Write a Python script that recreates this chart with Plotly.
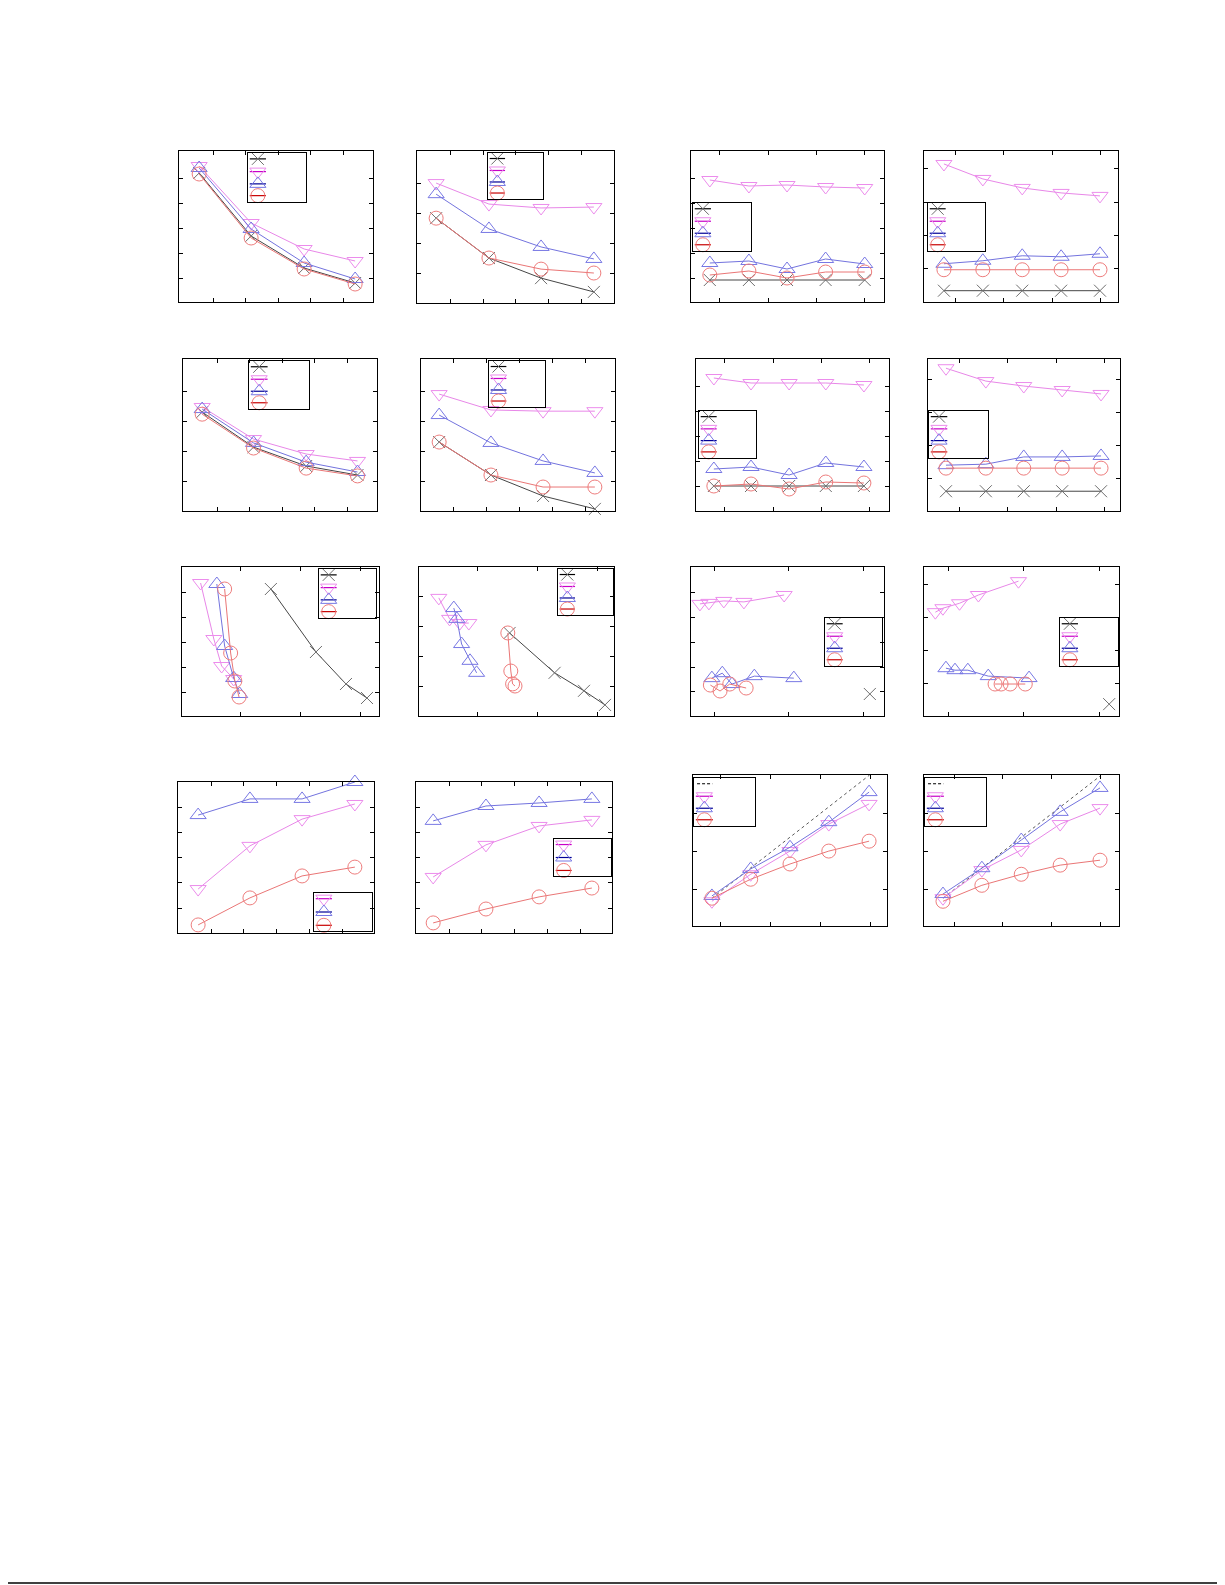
import plotly.graph_objects as go

W, H = 1225, 1585

# ---------------- data (axis units; ticks at integers) ----------------
A_x = [0.57, 2.17, 3.80, 5.37]
A_black = [5.2, 2.68, 1.4, 0.8]
A_magenta = [5.48, 3.2, 2.16, 1.68]
A_blue = [5.4, 2.96, 1.6, 0.96]
A_red = [5.16, 2.6, 1.36, 0.76]

B_x = [0.58, 2.18, 3.76, 5.36]
B_black = [2.83, 1.5, 0.83, 0.37]
B_magenta = [4.0, 3.3, 3.17, 3.2]
B_blue = [3.63, 2.47, 1.87, 1.47]
B_red = [2.83, 1.5, 1.13, 1.0]

C_x = [0.79, 1.6, 2.39, 3.19, 4.0]
C_black = [0.92, 0.92, 0.92, 0.92, 0.92]
C_magenta = [4.92, 4.68, 4.72, 4.64, 4.6]
C_blue = [1.6, 1.68, 1.36, 1.76, 1.56]
C_red = [1.12, 1.28, 1.0, 1.24, 1.24]

D_x = [0.77, 1.57, 2.38, 3.18, 3.98]
D_black = [0.34, 0.34, 0.34, 0.34, 0.34]
D_magenta = [4.15, 3.7, 3.43, 3.28, 3.19]
D_blue = [1.15, 1.24, 1.39, 1.36, 1.45]
D_red = [0.97, 0.97, 0.97, 0.97, 0.97]

E_x = [0.54, 2.12, 3.74, 5.32]
E_black = [3.3, 2.13, 1.5, 1.2]
E_magenta = [3.47, 2.4, 1.9, 1.67]
E_blue = [3.4, 2.27, 1.63, 1.3]
E_red = [3.23, 2.1, 1.43, 1.17]

F_x = [0.55, 2.12, 3.7, 5.27]
F_black = [2.3, 1.2, 0.5, 0.07]
F_magenta = [3.9, 3.37, 3.33, 3.33]
F_blue = [3.2, 2.27, 1.67, 1.27]
F_red = [2.3, 1.2, 0.8, 0.8]

G_x = [0.77, 1.54, 2.33, 3.09, 3.88]
G_black = [1.0, 1.0, 1.0, 1.0, 1.0]
G_magenta = [5.32, 5.12, 5.12, 5.12, 5.04]
G_blue = [1.68, 1.76, 1.44, 1.92, 1.76]
G_red = [1.0, 1.08, 0.88, 1.16, 1.12]

H_x = [0.73, 1.55, 2.33, 3.12, 3.92]
H_black = [0.6, 0.6, 0.6, 0.6, 0.6]
H_magenta = [4.33, 3.94, 3.79, 3.67, 3.55]
H_blue = [1.39, 1.42, 1.64, 1.64, 1.67]
H_red = [1.3, 1.3, 1.3, 1.3, 1.3]

I_black_x = [1.5, 2.25, 2.75, 3.1]
I_black_y = [5.12, 2.6, 1.32, 0.76]
I_magenta_x = [0.33, 0.55, 0.68, 0.88]
I_magenta_y = [5.36, 3.12, 2.04, 1.52]
I_blue_x = [0.6, 0.73, 0.88, 0.98]
I_blue_y = [5.32, 2.84, 1.56, 0.92]
I_red_x = [0.73, 0.83, 0.9, 0.97]
I_red_y = [5.12, 2.56, 1.44, 0.8]

J_black_x = [1.53, 2.28, 2.77, 3.12]
J_black_y = [2.8, 1.47, 0.87, 0.4]
J_magenta_x = [0.35, 0.53, 0.7, 0.85]
J_magenta_y = [3.97, 3.27, 3.13, 3.13]
J_blue_x = [0.6, 0.65, 0.73, 0.87, 0.98]
J_blue_y = [3.63, 3.27, 2.43, 1.87, 1.47]
J_red_x = [1.5, 1.55, 1.58, 1.62]
J_red_y = [2.8, 1.53, 1.1, 1.03]

K_black_x = [3.09]
K_black_y = [0.92]
K_magenta_x = [0.81, 0.93, 1.13, 1.4, 1.94]
K_magenta_y = [4.56, 4.6, 4.68, 4.64, 4.92]
K_blue_x = [0.97, 1.11, 1.24, 1.54, 2.07]
K_blue_y = [1.56, 1.76, 1.32, 1.64, 1.56]
K_red_x = [0.95, 1.08, 1.21, 1.43]
K_red_y = [1.28, 1.04, 1.32, 1.16]

L_black_x = [3.13]
L_black_y = [0.36]
L_magenta_x = [0.83, 0.93, 1.15, 1.4, 1.93]
L_magenta_y = [3.15, 3.27, 3.42, 3.67, 4.09]
L_blue_x = [0.97, 1.09, 1.26, 1.53, 2.07]
L_blue_y = [1.45, 1.39, 1.39, 1.21, 1.15]
L_red_x = [1.62, 1.7, 1.82, 2.02]
L_red_y = [0.97, 0.97, 0.97, 0.97]

M_x = [0.61, 2.18, 3.76, 5.36]
M_magenta = [1.75, 3.46, 4.52, 5.12]
M_blue = [4.68, 5.32, 5.32, 5.99]
M_red = [0.33, 1.4, 2.27, 2.62]

N_x = [0.52, 2.12, 3.73, 5.33]
N_magenta = [2.23, 3.5, 4.25, 4.49]
N_blue = [4.45, 5.04, 5.16, 5.32]
N_red = [0.41, 0.96, 1.44, 1.79]

O_x = [0.82, 1.6, 2.39, 3.17, 3.98]
O_ideal_x = [0.82, 3.99]
O_ideal_y = [0.76, 4.0]
O_magenta = [0.68, 1.39, 2.0, 2.71, 3.24]
O_blue = [0.82, 1.53, 2.1, 2.76, 3.55]
O_red = [0.76, 1.26, 1.66, 2.0, 2.26]

P_x = [0.77, 1.57, 2.38, 3.18, 4.0]
P_ideal_x = [0.77, 4.0]
P_ideal_y = [0.76, 3.97]
P_magenta = [0.76, 1.5, 2.03, 2.71, 3.13]
P_blue = [0.87, 1.55, 2.29, 3.03, 3.66]
P_red = [0.68, 1.1, 1.39, 1.63, 1.76]

# ---------------- styles ----------------
STY = {
    'black':   dict(symbol='x-thin-open', size=12, mc='rgb(110,110,110)', lc='rgb(70,70,70)', leg='black'),
    'magenta': dict(symbol='triangle-down-open', size=14, mc='rgb(236,140,236)', lc='rgb(232,135,232)', leg='rgb(200,0,200)'),
    'blue':    dict(symbol='triangle-up-open', size=14, mc='rgb(120,120,228)', lc='rgb(115,115,222)', leg='rgb(0,0,150)'),
    'red':     dict(symbol='circle-open', size=14, mc='rgb(238,125,125)', lc='rgb(234,118,118)', leg='rgb(200,0,0)'),
}

L4 = ['black', 'magenta', 'blue', 'red']
L3 = ['magenta', 'blue', 'red']
LD = ['dash', 'magenta', 'blue', 'red']

# global page offset (px) applied to every panel box
OFF_X, OFF_Y = -6, -7

# panel layout: box (left, top, right, bottom) in px, axis ranges, ticks, legend
panels = [
    dict(box=(177, 150, 371, 301), xr=(-0.05, 5.92), yr=(0.04, 6.08), xt=5, yt=5,
         s=[('black', A_x, A_black), ('magenta', A_x, A_magenta), ('blue', A_x, A_blue), ('red', A_x, A_red)],
         lg=((246, 152, 304, 201), L4)),
    dict(box=(415, 150, 612, 302), xr=(0.0, 5.97), yr=(0.0, 5.07), xt=5, yt=4,
         s=[('black', B_x, B_black), ('magenta', B_x, B_magenta), ('blue', B_x, B_blue), ('red', B_x, B_red)],
         lg=((486, 152, 541, 198), L4)),
    dict(box=(689, 150, 882, 301), xr=(0.4, 4.4), yr=(0.04, 6.08), xt=4, yt=5,
         s=[('black', C_x, C_black), ('magenta', C_x, C_magenta), ('blue', C_x, C_blue), ('red', C_x, C_red)],
         lg=((691, 202, 749, 250), L4)),
    dict(box=(922, 150, 1116, 301), xr=(0.36, 4.35), yr=(0.0, 4.54), xt=4, yt=4,
         s=[('black', D_x, D_black), ('magenta', D_x, D_magenta), ('blue', D_x, D_blue), ('red', D_x, D_red)],
         lg=((926, 202, 983, 250), L4)),
    dict(box=(181, 358, 375, 510), xr=(-0.05, 5.92), yr=(0.0, 5.07), xt=5, yt=4,
         s=[('black', E_x, E_black), ('magenta', E_x, E_magenta), ('blue', E_x, E_blue), ('red', E_x, E_red)],
         lg=((247, 360, 307, 408), L4)),
    dict(box=(419, 358, 613, 510), xr=(0.0, 5.88), yr=(0.0, 5.07), xt=5, yt=4,
         s=[('black', F_x, F_black), ('magenta', F_x, F_magenta), ('blue', F_x, F_blue), ('red', F_x, F_red)],
         lg=((487, 360, 543, 406), L4)),
    dict(box=(694, 358, 887, 510), xr=(0.4, 4.4), yr=(0.0, 6.08), xt=4, yt=5,
         s=[('black', G_x, G_black), ('magenta', G_x, G_magenta), ('blue', G_x, G_blue), ('red', G_x, G_red)],
         lg=((697, 410, 754, 457), L4)),
    dict(box=(926, 358, 1118, 510), xr=(0.36, 4.31), yr=(0.0, 4.61), xt=4, yt=4,
         s=[('black', H_x, H_black), ('magenta', H_x, H_magenta), ('blue', H_x, H_blue), ('red', H_x, H_red)],
         lg=((927, 410, 986, 457), L4)),
    dict(box=(180, 566, 377, 715), xr=(0.02, 3.3), yr=(0.04, 6.0), xt=3, yt=5,
         s=[('black', I_black_x, I_black_y), ('magenta', I_magenta_x, I_magenta_y),
            ('blue', I_blue_x, I_blue_y), ('red', I_red_x, I_red_y)],
         lg=((317, 568, 374, 617), L4)),
    dict(box=(417, 566, 612, 715), xr=(0.02, 3.27), yr=(0.03, 5.0), xt=3, yt=4,
         s=[('black', J_black_x, J_black_y), ('magenta', J_magenta_x, J_magenta_y),
            ('blue', J_blue_x, J_blue_y), ('red', J_red_x, J_red_y)],
         lg=((556, 568, 611, 614), L4)),
    dict(box=(689, 566, 882, 715), xr=(0.69, 3.28), yr=(0.03, 6.05), xt=3, yt=5,
         s=[('black', K_black_x, K_black_y), ('magenta', K_magenta_x, K_magenta_y),
            ('blue', K_blue_x, K_blue_y), ('red', K_red_x, K_red_y)],
         lg=((823, 617, 880, 665), L4)),
    dict(box=(922, 566, 1117, 715), xr=(0.68, 3.26), yr=(0.0, 4.52), xt=3, yt=4,
         s=[('black', L_black_x, L_black_y), ('magenta', L_magenta_x, L_magenta_y),
            ('blue', L_blue_x, L_blue_y), ('red', L_red_x, L_red_y)],
         lg=((1058, 617, 1116, 665), L4)),
    dict(box=(176, 781, 372, 932), xr=(0.0, 5.94), yr=(0.01, 5.99), xt=5, yt=5,
         s=[('magenta', M_x, M_magenta), ('blue', M_x, M_blue), ('red', M_x, M_red)],
         lg=((312, 892, 370, 930), L3)),
    dict(box=(414, 781, 610, 932), xr=(0.0, 5.94), yr=(0.01, 5.99), xt=5, yt=5,
         s=[('magenta', N_x, N_magenta), ('blue', N_x, N_blue), ('red', N_x, N_red)],
         lg=((552, 838, 609, 875), L3)),
    dict(box=(691, 774, 885, 925), xr=(0.44, 4.34), yr=(0.03, 4.0), xt=4, yt=3,
         s=[('dash', O_ideal_x, O_ideal_y), ('magenta', O_x, O_magenta), ('blue', O_x, O_blue), ('red', O_x, O_red)],
         lg=((692, 777, 753, 825), LD)),
    dict(box=(922, 774, 1117, 925), xr=(0.38, 4.39), yr=(0.03, 4.0), xt=4, yt=3,
         s=[('dash', P_ideal_x, P_ideal_y), ('magenta', P_x, P_magenta), ('blue', P_x, P_blue), ('red', P_x, P_red)],
         lg=((923, 777, 984, 825), LD)),
]

fig = go.Figure()
layout = {}


def names(k):
    return ('x' if k == 1 else f'x{k}', 'y' if k == 1 else f'y{k}',
            'xaxis' if k == 1 else f'xaxis{k}', 'yaxis' if k == 1 else f'yaxis{k}')


def dom(b):
    L, T, R, B = b
    L, R = L + OFF_X, R + OFF_X
    T, B = T + OFF_Y, B + OFF_Y
    return [L / W, R / W], [1 - B / H, 1 - T / H]


axis_common = dict(showline=True, mirror='ticks', linecolor='black', linewidth=1,
                   ticks='inside', ticklen=4, tickwidth=1, tickcolor='black',
                   showticklabels=False, showgrid=False, zeroline=False, fixedrange=True)
leg_axis = dict(showline=True, mirror=True, linecolor='black', linewidth=1, ticks='',
                showticklabels=False, showgrid=False, zeroline=False, fixedrange=True, range=[0, 1])

k = 0
for p in panels:
    k += 1
    xn, yn, xa, ya = names(k)
    dx, dy = dom(p['box'])
    layout[xa] = dict(axis_common, domain=dx, range=list(p['xr']), anchor=yn,
                      tickvals=list(range(1, p['xt'] + 1)))
    layout[ya] = dict(axis_common, domain=dy, range=list(p['yr']), anchor=xn,
                      tickvals=list(range(1, p['yt'] + 1)))
    for key, xs, ys in p['s']:
        if key == 'dash':
            fig.add_trace(go.Scatter(x=xs, y=ys, mode='lines', xaxis=xn, yaxis=yn, showlegend=False,
                                     line=dict(color='rgb(90,90,90)', width=1, dash='3px,3px'), hoverinfo='skip'))
            continue
        st = STY[key]
        fig.add_trace(go.Scatter(
            x=xs, y=ys, mode='lines+markers', xaxis=xn, yaxis=yn, showlegend=False, cliponaxis=False,
            line=dict(color=st['lc'], width=1),
            marker=dict(symbol=st['symbol'], size=st['size'], color=st['mc'], line=dict(width=1, color=st['mc'])),
            hoverinfo='skip'))

# legend boxes (drawn as small overlay axes)
for p in panels:
    k += 1
    xn, yn, xa, ya = names(k)
    box, items = p['lg']
    dx, dy = dom(box)
    layout[xa] = dict(leg_axis, domain=dx, anchor=yn)
    layout[ya] = dict(leg_axis, domain=dy, anchor=xn)
    fr = [0.12, 0.38, 0.63, 0.87] if len(items) == 4 else [0.15, 0.5, 0.85]
    for key, f in zip(items, fr):
        yy = 1 - f
        if key == 'dash':
            fig.add_trace(go.Scatter(x=[0.05, 0.30], y=[yy, yy], mode='lines', xaxis=xn, yaxis=yn,
                                     showlegend=False, hoverinfo='skip',
                                     line=dict(color='black', width=1.2, dash='3px,2px')))
            continue
        st = STY[key]
        fig.add_trace(go.Scatter(x=[0.03, 0.31], y=[yy, yy], mode='lines', xaxis=xn, yaxis=yn,
                                 showlegend=False, hoverinfo='skip', line=dict(color=st['leg'], width=1.2)))
        fig.add_trace(go.Scatter(x=[0.17], y=[yy], mode='markers', xaxis=xn, yaxis=yn, cliponaxis=False,
                                 showlegend=False, hoverinfo='skip',
                                 marker=dict(symbol=st['symbol'], size=st['size'], color=st['mc'],
                                             line=dict(width=1, color=st['mc']))))

# page rule at the bottom
layout['shapes'] = [
    dict(type='line', xref='paper', yref='paper', x0=0, x1=1218 / W, y0=1 - 1575 / H, y1=1 - 1575 / H,
         line=dict(color='black', width=1.5)),
    dict(type='line', xref='paper', yref='paper', x0=1218 / W, x1=1218 / W, y0=1 - 1575 / H, y1=1 - 1571 / H,
         line=dict(color='black', width=1)),
]

fig.update_layout(width=W, height=H, margin=dict(l=0, r=0, t=0, b=0),
                  paper_bgcolor='white', plot_bgcolor='rgba(0,0,0,0)', showlegend=False,
                  font=dict(family='DejaVu Sans', size=10), **layout)

fig.write_html('out.html', config={'displayModeBar': False})
